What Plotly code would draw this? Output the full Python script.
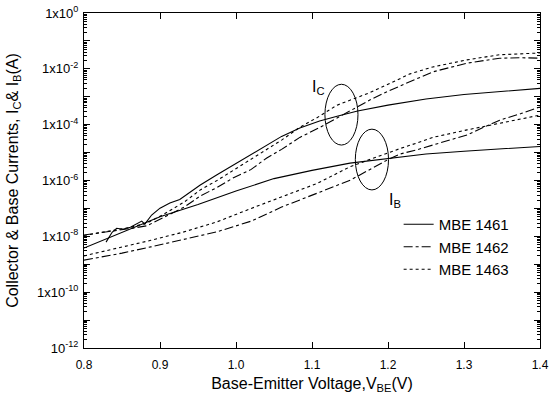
import math
import plotly.graph_objects as go

# ---- data ----
# Collector currents (upper curves)
ic1461_v = [0.829, 0.837, 0.843, 0.851, 0.861, 0.870, 0.876, 0.880, 0.889, 0.900, 0.913, 0.926,
            0.953, 0.975, 0.996, 1.02, 1.04, 1.06, 1.084, 1.11, 1.133, 1.16, 1.2, 1.25, 1.3, 1.35, 1.4]
ic1461_i = [6.2e-9, 1.4e-8, 1.95e-8, 1.8e-8, 2.1e-8, 2.95e-8, 3.5e-8, 2.75e-8, 5.8e-8, 1.02e-7, 1.55e-7, 2.1e-7,
            6.9e-7, 1.6e-6, 3.5e-6, 8.9e-6, 1.9e-5, 3.8e-5, 7.6e-5, 1.35e-4, 2.0e-4, 3.1e-4, 5.0e-4, 8.3e-4, 1.2e-3, 1.58e-3, 2.0e-3]

ic1462_v = [0.8, 0.815, 0.838, 0.861, 0.883, 0.904, 0.932, 0.953, 0.975, 0.996, 1.02, 1.04, 1.06, 1.084,
            1.11, 1.133, 1.16, 1.176, 1.2, 1.229, 1.259, 1.304, 1.347, 1.375, 1.4]
ic1462_i = [1.12e-8, 1.26e-8, 1.58e-8, 1.9e-8, 2.4e-8, 4.7e-8, 1.12e-7, 2.8e-7, 5.6e-7, 1.23e-6, 2.5e-6, 6.3e-6, 1.3e-5, 3.5e-5,
            7.9e-5, 1.74e-4, 4.5e-4, 7.6e-4, 1.58e-3, 3.4e-3, 7.8e-3, 1.6e-2, 2.4e-2, 2.5e-2, 2.4e-2]

ic1463_v = [0.8, 0.838, 0.861, 0.883, 0.904, 0.932, 0.953, 0.975, 0.996, 1.02, 1.04, 1.06, 1.084,
            1.106, 1.133, 1.176, 1.2, 1.229, 1.259, 1.304, 1.347, 1.4]
ic1463_i = [1.07e-8, 1.66e-8, 2.1e-8, 3.0e-8, 6.0e-8, 1.7e-7, 4.6e-7, 1.0e-6, 2.3e-6, 5.6e-6, 1.23e-5, 2.8e-5, 8.1e-5,
            1.74e-4, 5.0e-4, 1.4e-3, 2.8e-3, 6.6e-3, 1.17e-2, 2.1e-2, 3.2e-2, 3.7e-2]

# Base currents (lower curves)
ib1461_v = [0.8, 0.85, 0.9, 0.95, 1.0, 1.05, 1.1, 1.15, 1.2, 1.25, 1.3, 1.35, 1.4]
ib1461_i = [3.8e-9, 1.4e-8, 5.0e-8, 1.38e-7, 4.2e-7, 1.17e-6, 2.3e-6, 4.2e-6, 6.3e-6, 8.9e-6, 1.12e-5, 1.38e-5, 1.66e-5]

ib1462_v = [0.8, 0.85, 0.888, 0.93, 0.975, 1.02, 1.06, 1.11, 1.151, 1.2, 1.216, 1.238, 1.259, 1.283,
            1.304, 1.325, 1.347, 1.375, 1.4]
ib1462_i = [1.4e-9, 2.5e-9, 4.2e-9, 7.6e-9, 1.45e-8, 3.5e-8, 1.12e-7, 3.8e-7, 1.05e-6, 5.6e-6, 8.9e-6, 1.26e-5, 1.86e-5, 2.8e-5,
            4.3e-5, 7.9e-5, 1.45e-4, 2.5e-4, 4.3e-4]

ib1463_v = [0.8, 0.85, 0.888, 0.93, 0.975, 1.02, 1.063, 1.107, 1.151, 1.195, 1.216, 1.238, 1.259, 1.304, 1.347, 1.4]
ib1463_i = [2.0e-9, 4.0e-9, 7.2e-9, 1.4e-8, 3.3e-8, 1.0e-7, 2.8e-7, 7.9e-7, 3.2e-6, 8.9e-6, 1.4e-5, 2.2e-5, 3.5e-5, 6.5e-5, 1.15e-4, 2.2e-4]

series_names = ["MBE 1461", "MBE 1462", "MBE 1463"]
series_dash = ["solid", "dashdot", "dot"]

# y tick labels (every decade gets a tick, even decades labelled)
y_tick_exps = list(range(0, -13, -1))
y_tick_text = ["1x10<sup>0</sup>", "", "1x10<sup>-2</sup>", "", "1x10<sup>-4</sup>", "",
               "1x10<sup>-6</sup>", "", "1x10<sup>-8</sup>", "", "1x10<sup>-10</sup>", "", "10<sup>-12</sup>"]
x_ticks = [0.8, 0.9, 1.0, 1.1, 1.2, 1.3, 1.4]

# annotation groups: ellipse bounds (V range, current range) and label positions
ellipse_ic = dict(v0=1.117, v1=1.1605, i0=1.86e-5, i1=2.8e-3)
ellipse_ib = dict(v0=1.157, v1=1.2007, i0=4.6e-7, i1=6.9e-5)
label_ic = dict(v=1.108, i=2.2e-3, text="I<sub>C</sub>")
label_ib = dict(v=1.209, i=1.9e-7, text="I<sub>B</sub>")

FONT = "Liberation Sans, Arial, Helvetica, sans-serif"

fig = go.Figure()
ic = [(ic1461_v, ic1461_i), (ic1462_v, ic1462_i), (ic1463_v, ic1463_i)]
ib = [(ib1461_v, ib1461_i), (ib1462_v, ib1462_i), (ib1463_v, ib1463_i)]
for k in range(3):
    fig.add_trace(go.Scatter(x=ic[k][0], y=ic[k][1], mode="lines", name=series_names[k],
                             legendgroup=series_names[k], showlegend=True,
                             line=dict(color="black", width=1.1, dash=series_dash[k])))
for k in range(3):
    fig.add_trace(go.Scatter(x=ib[k][0], y=ib[k][1], mode="lines", name=series_names[k],
                             legendgroup=series_names[k], showlegend=False,
                             line=dict(color="black", width=1.1, dash=series_dash[k])))

minor_vals = [m * 10.0 ** e for e in range(-12, 0) for m in range(2, 10)]

fig.update_xaxes(range=[0.8, 1.4], tickvals=x_ticks, tickformat=".1f",
                 ticks="inside", ticklen=6, tickcolor="black",
                 showline=True, linecolor="black", linewidth=1, mirror="allticks",
                 showgrid=False, zeroline=False, automargin=False,
                 ticklabeloverflow="allow", ticklabelstandoff=6,
                 tickfont=dict(family=FONT, size=12, color="black"),
                 title=dict(text="Base-Emitter Voltage,V<sub>BE</sub>(V)",
                            font=dict(family=FONT, size=16, color="black"), standoff=6))
fig.update_yaxes(type="log", range=[-12, 0],
                 tickvals=[10.0 ** e for e in y_tick_exps], ticktext=y_tick_text,
                 ticks="inside", ticklen=6, tickcolor="black",
                 minor=dict(tickvals=minor_vals, ticks="inside", ticklen=3, tickcolor="black", showgrid=False),
                 showline=True, linecolor="black", linewidth=1, mirror="allticks",
                 showgrid=False, zeroline=False, automargin=False,
                 ticklabeloverflow="allow", ticklabelstandoff=2,
                 tickfont=dict(family=FONT, size=13, color="black"),
                 title=dict(text="Collector & Base Currents, I<sub>C</sub>& I<sub>B</sub>(A)",
                            font=dict(family=FONT, size=16, color="black"), standoff=14))

for e in (ellipse_ic, ellipse_ib):
    fig.add_shape(type="circle", xref="x", yref="y", x0=e["v0"], x1=e["v1"], y0=e["i0"], y1=e["i1"],
                  line=dict(color="black", width=1))
for lab in (label_ic, label_ib):
    fig.add_annotation(x=lab["v"], y=math.log10(lab["i"]), text=lab["text"], showarrow=False,
                       font=dict(family=FONT, size=16, color="black"))

fig.update_layout(width=550, height=400, margin=dict(l=84, r=10, t=13, b=52),
                  plot_bgcolor="white", paper_bgcolor="white",
                  font=dict(family=FONT, color="black"),
                  legend=dict(x=0.69, y=0.418, xanchor="left", yanchor="top",
                              bgcolor="rgba(0,0,0,0)", font=dict(family=FONT, size=15, color="black"),
                              tracegroupgap=0, itemwidth=30))

# remove the browser's default 8px page margin so the 550x400 figure fills the window exactly
fig.write_html("out.html", config={"displayModeBar": False},
               post_script="document.body.style.margin='0px';document.body.style.overflow='hidden';")
